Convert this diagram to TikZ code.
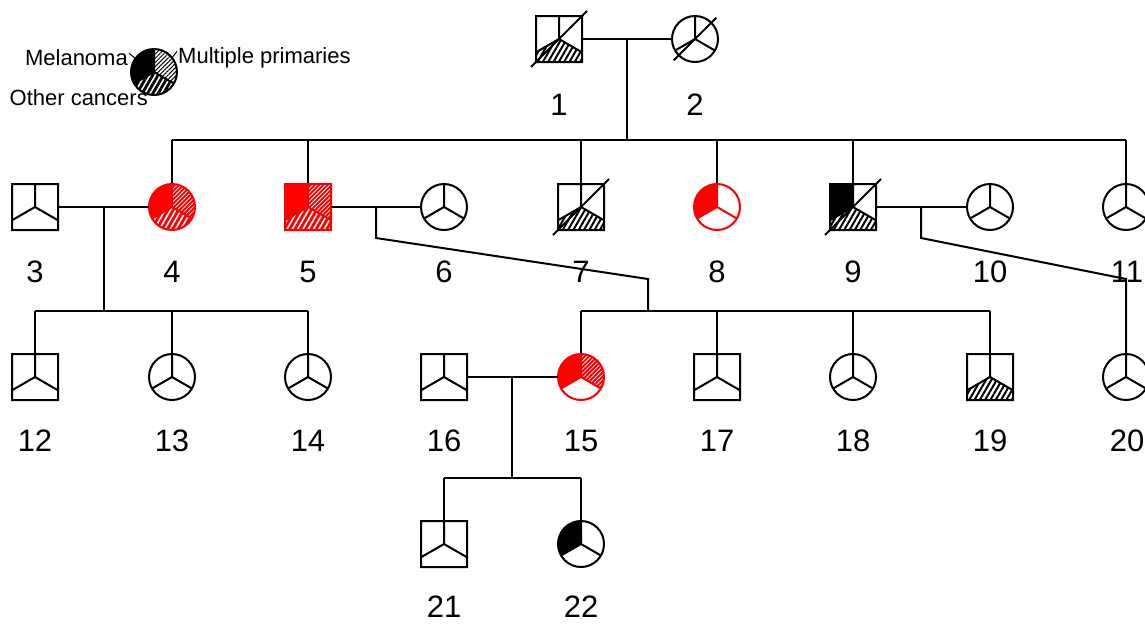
\documentclass[tikz,border=0pt]{standalone}
\usepackage{fontspec}
\setmainfont{Liberation Sans}
\usetikzlibrary{patterns.meta,calc}

\tikzset{
  conn/.style={line width=2pt, black},
  symline/.style={line width=2pt, line join=miter},
  symnode/.style={inner sep=0pt, outer sep=0pt, minimum size=46pt},
  dead/.style={line width=2pt, black},
  lbl/.style={font=\fontsize{31}{37}\selectfont, inner sep=0pt},
  leg/.style={font=\fontsize{22}{26}\selectfont, inner sep=0pt},
  % sector fills
  blank/.style={},
  melB/.style={fill=black},
  mpB/.style={fill=white, postaction={pattern={Lines[angle=45,distance=3pt,line width=1pt]}, pattern color=black}},
  othB/.style={fill=white, postaction={pattern={Lines[angle=60,distance=4.6pt,line width=2pt]}, pattern color=black}},
  othL/.style={fill=white, postaction={pattern={Lines[angle=60,distance=4.6pt,line width=2.8pt]}, pattern color=black}},
  melR/.style={fill=red},
  mpR/.style={fill=red, postaction={pattern={Lines[angle=45,distance=3pt,line width=0.8pt]}, pattern color=white}},
  othR/.style={fill=red, postaction={pattern={Lines[angle=60,distance=4.6pt,line width=1.6pt]}, pattern color=white}},
}

% male symbol: name, x, y (downwards), outline colour, melanoma, multiple primaries, other cancers
\newcommand{\malesym}[7]{%
  \begin{scope}[shift={(#2,-#3)}]
    \node[symnode, rectangle] (#1) at (0,0) {};
    \path[#5] (0,0) -- (0,23) -- (-23,23) -- (-23,-13.28) -- cycle;
    \path[#6] (0,0) -- (0,23) -- (23,23) -- (23,-13.28) -- cycle;
    \path[#7] (0,0) -- (-23,-13.28) -- (-23,-23) -- (23,-23) -- (23,-13.28) -- cycle;
    \draw[symline, draw=#4] (-23,-23) rectangle (23,23)
      (0,23) -- (0,0) -- (-23,-13.28) (0,0) -- (23,-13.28);
  \end{scope}}

% female symbol: same arguments
\newcommand{\femalesym}[7]{%
  \begin{scope}[shift={(#2,-#3)}]
    \node[symnode, circle] (#1) at (0,0) {};
    \path[#5] (0,0) -- (90:23) arc (90:210:23) -- cycle;
    \path[#6] (0,0) -- (-30:23) arc (-30:90:23) -- cycle;
    \path[#7] (0,0) -- (210:23) arc (210:330:23) -- cycle;
    \draw[symline, draw=#4] (0,0) circle (23)
      (0,23) -- (0,0) -- (210:23) (0,0) -- (330:23);
  \end{scope}}

\begin{document}
\begin{tikzpicture}[x=1pt,y=1pt]
\useasboundingbox (0,0) rectangle (1145,-625);
\clip (0,0) rectangle (1145,-625);

% ---------- legend ----------
\node[leg, anchor=base east] (tmel) at (128,-65) {Melanoma};
\node[leg, anchor=base west] (tmp) at (178,-63) {Multiple primaries};
\node[leg, anchor=base east] (toth) at (148,-105) {Other cancers};
\coordinate (lgc) at (154,-72);
\draw[line width=1pt] (tmel.east) ++(1,4) -- ($(lgc)+(-12,8)$);
\draw[line width=1pt] (tmp.west) ++(-1,6) -- ($(lgc)+(12,6)$);
\draw[line width=1pt] (toth.east) ++(0,5) -- ($(lgc)+(0,-12)$);
\femalesym{lg}{154}{72}{black}{melB}{mpB}{othL}

% ---------- connectors ----------
% generation I
\coordinate (m12) at (627,-39);
\coordinate (s1) at (627,-140);
\draw[conn] (m12) -- (s1);
\draw[conn] (172,-140) -- (1126,-140);
\foreach \x in {172,308,581,717,853,1126}
  \draw[conn] (\x,-140) -- (\x,-184);

% couple 3 x 4 and children
\coordinate (m34) at (104,-207);
\coordinate (s34) at (104,-311);
\draw[conn] (m34) -- (s34);
\draw[conn] (35,-311) -- (308,-311);
\foreach \x in {35,172,308}
  \draw[conn] (\x,-311) -- (\x,-354);

% couple 5 x 6 and children
\coordinate (m56) at (376,-207);
\coordinate (k56) at (648,-279);
\draw[conn] (m56) -- (376,-238) -- (k56) -- (648,-311);
\draw[conn] (581,-311) -- (990,-311);
\foreach \x in {581,717,853,990}
  \draw[conn] (\x,-311) -- (\x,-354);

% couple 9 x 10 and child
\coordinate (m910) at (921,-207);
\coordinate (k910) at (1126,-279);
\draw[conn] (m910) -- (921,-238) -- (k910) -- (1126,-354);

% couple 16 x 15 and children
\coordinate (m1615) at (512,-377);
\coordinate (s1615) at (512,-478);
\draw[conn] (m1615) -- (s1615);
\draw[conn] (444,-478) -- (581,-478);
\foreach \x in {444,581}
  \draw[conn] (\x,-478) -- (\x,-521);

% ---------- individuals ----------
\malesym{p1}{559}{39}{black}{blank}{blank}{othB}
\femalesym{p2}{695}{39}{black}{blank}{blank}{blank}

\malesym{p3}{35}{207}{black}{blank}{blank}{blank}
\femalesym{p4}{172}{207}{red}{melR}{mpR}{othR}
\malesym{p5}{308}{207}{red}{melR}{mpR}{othR}
\femalesym{p6}{444}{207}{black}{blank}{blank}{blank}
\malesym{p7}{581}{207}{black}{blank}{blank}{othB}
\femalesym{p8}{717}{207}{red}{melR}{blank}{blank}
\malesym{p9}{853}{207}{black}{melB}{blank}{othB}
\femalesym{p10}{990}{207}{black}{blank}{blank}{blank}
\femalesym{p11}{1126}{207}{black}{blank}{blank}{blank}

\malesym{p12}{35}{377}{black}{blank}{blank}{blank}
\femalesym{p13}{172}{377}{black}{blank}{blank}{blank}
\femalesym{p14}{308}{377}{black}{blank}{blank}{blank}
\malesym{p16}{444}{377}{black}{blank}{blank}{blank}
\femalesym{p15}{581}{377}{red}{melR}{mpR}{blank}
\malesym{p17}{717}{377}{black}{blank}{blank}{blank}
\femalesym{p18}{853}{377}{black}{blank}{blank}{blank}
\malesym{p19}{990}{377}{black}{blank}{blank}{othB}
\femalesym{p20}{1126}{377}{black}{blank}{blank}{blank}

\malesym{p21}{444}{544}{black}{blank}{blank}{blank}
\femalesym{p22}{581}{544}{black}{melB}{blank}{blank}

% marriage lines
\draw[conn] (p1) -- (p2);
\draw[conn] (p3) -- (p4);
\draw[conn] (p5) -- (p6);
\draw[conn] (p9) -- (p10);
\draw[conn] (p16) -- (p15);

% deceased
\foreach \p in {p1,p2,p7,p9}
  \draw[dead] ($(\p.south west)+(-5,-5)$) -- ($(\p.north east)+(5,5)$);

% ---------- numbers ----------
\node[lbl] (n1) at (559,-105) {1};
\node[lbl] (n2) at (695,-105) {2};
\node[lbl] (n3) at (35,-272) {3};
\node[lbl] (n4) at (172,-272) {4};
\node[lbl] (n5) at (308,-272) {5};
\node[lbl] (n6) at (444,-272) {6};
\node[lbl] (n7) at (581,-272) {7};
\node[lbl] (n8) at (717,-272) {8};
\node[lbl] (n9) at (853,-272) {9};
\node[lbl] (n10) at (990,-272) {10};
\node[lbl] (n11) at (1127,-272) {11};
\node[lbl] (n12) at (35,-441) {12};
\node[lbl] (n13) at (172,-441) {13};
\node[lbl] (n14) at (308,-441) {14};
\node[lbl] (n16) at (444,-441) {16};
\node[lbl] (n15) at (581,-441) {15};
\node[lbl] (n17) at (717,-441) {17};
\node[lbl] (n18) at (853,-441) {18};
\node[lbl] (n19) at (990,-441) {19};
\node[lbl] (n20) at (1127,-441) {20};
\node[lbl] (n21) at (444,-607) {21};
\node[lbl] (n22) at (581,-607) {22};
\end{tikzpicture}
\end{document}
